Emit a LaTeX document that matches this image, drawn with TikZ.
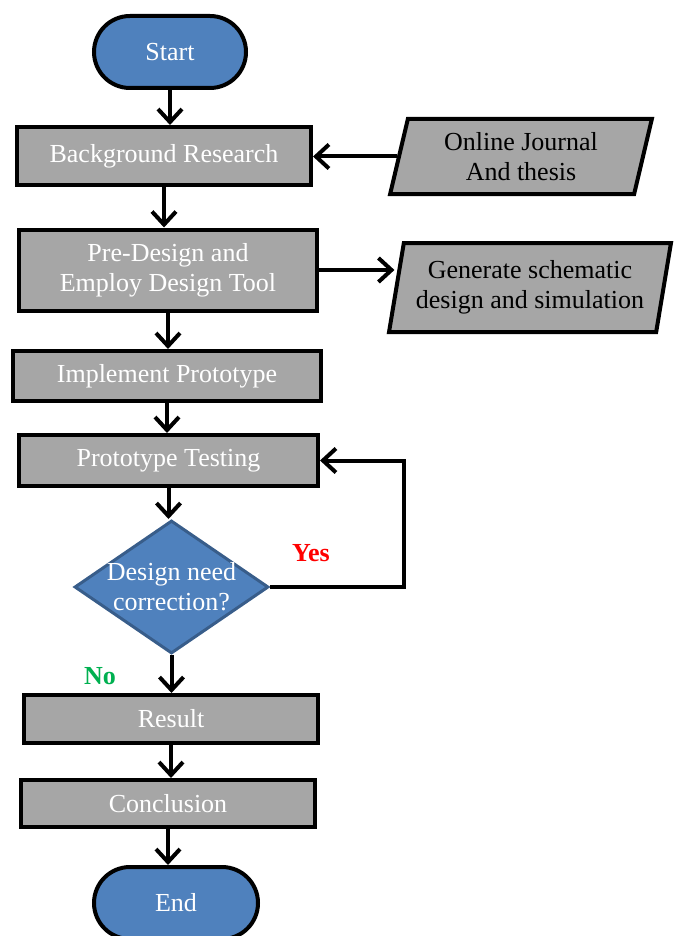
\documentclass[tikz,border=0pt]{standalone}
\usepackage{fontspec}
\setmainfont{Liberation Serif}
\usetikzlibrary{shapes.geometric,arrows.meta}
\definecolor{myblue}{RGB}{79,129,189}
\definecolor{mydarkblue}{RGB}{56,93,138}
\definecolor{mygray}{RGB}{166,166,166}
\definecolor{mygreen}{RGB}{0,176,80}

\begin{document}
\begin{tikzpicture}[x=1pt,y=-1pt,
termb/.style={
  draw=black,
  line width=4pt,
  fill=myblue,
  rounded corners=36pt,
  minimum height=72pt,
  font={\fontsize{26}{30}\selectfont\color{white}}},
procb/.style={
  draw=black,
  line width=4pt,
  fill=mygray,
  align=center,
  inner sep=0pt,
  font={\fontsize{26}{30}\selectfont\color{white}}},
iob/.style={
  procb,
  trapezium,
  trapezium left angle=76,
  trapezium right angle=104,
  trapezium stretches=true,
  font={\fontsize{26}{30}\selectfont\color{black}}},
decb/.style={
  diamond,
  draw=mydarkblue,
  line width=3pt,
  fill=myblue,
  aspect=1.46,
  inner sep=-10pt,
  align=center,
  minimum width=194pt,
  minimum height=133pt,
  font={\fontsize{26}{30}\selectfont\color{white}}},
arr/.style={
  line width=4pt,
  -{Straight Barb[length=13pt,width=24pt]}},
lab/.style={font={\fontsize{26}{30}\selectfont\bfseries}},
]
\useasboundingbox (0,0) rectangle (674,936);
\node[termb,minimum width=152pt] (Sta) at (170,52) {Start};
\node[procb,minimum width=294pt,minimum height=58pt] (BRe) at (164,156) {Background Research};
\node[procb,minimum width=298pt,minimum height=81pt] (PDe) at (168,270) {Pre-Design and\\Employ Design Tool};
\node[procb,minimum width=308pt,minimum height=50pt] (IPr) at (167,376) {Implement Prototype};
\node[procb,minimum width=299pt,minimum height=51pt] (PTe) at (168.5,460.5) {Prototype Testing};
\node[decb] (Cor) at (171.5,587) {Design need\\correction?};
\node[procb,minimum width=294pt,minimum height=48pt] (Res) at (171,719) {Result};
\node[procb,minimum width=294pt,minimum height=47pt] (Con) at (168,803.5) {Conclusion};
\node[termb,minimum width=164pt] (End) at (176,903) {End};
\node[iob,minimum width=262pt,minimum height=75pt] (OJo) at (521,156.5) {Online Journal\\And thesis};
\node[iob,minimum width=282pt,minimum height=89pt] (Gen) at (530,287.5) {Generate schematic\\design and simulation};

\draw[arr] (Sta.south) -- (Sta.south |- BRe.north);
\draw[arr] (BRe.south) -- (BRe.south |- PDe.north);
\draw[arr] (PDe.south) -- (PDe.south |- IPr.north);
\draw[arr] (IPr.south) -- (IPr.south |- PTe.north);
\draw[arr] (PTe.south) -- (PTe.south |- Cor.north);
\draw[arr] (Cor.south) -- (Cor.south |- Res.north);
\draw[arr] (Res.south) -- (Res.south |- Con.north);
\draw[arr] (Con.south) -- (Con.south |- End.north);
\draw[arr] (OJo.west) -- (OJo.west -| BRe.east);
\draw[arr] (PDe.east) -- (PDe.east -| Gen.west);
\draw[arr] (Cor.east) -- ++(134,0) |- (PTe.east);
\node[lab,text=red] (Yes) at (311,553) {Yes};
\node[lab,text=mygreen] (No) at (100,676) {No};
\end{tikzpicture}
\end{document}
